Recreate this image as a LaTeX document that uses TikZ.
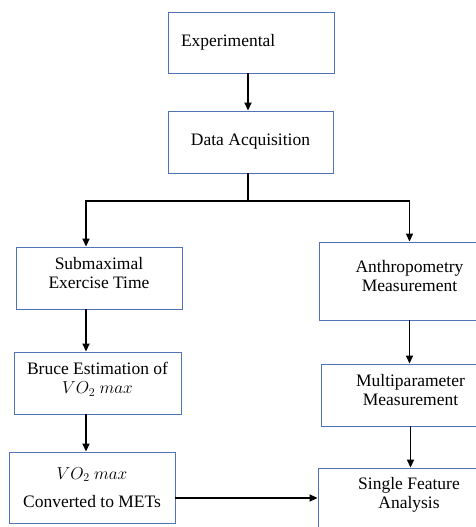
\documentclass[tikz,border=0pt]{standalone}
\usepackage{fontspec}
\setmainfont{Liberation Serif}
\usetikzlibrary{positioning, arrows.meta}

\definecolor{boxblue}{RGB}{79,114,184}

\begin{document}
\begin{tikzpicture}[
        x=1pt, y=-1pt,
        font=\fontsize{17.5}{19}\selectfont,
        % Styles
        block/.style={draw=boxblue, line width=0.9pt, fill=white, align=center, inner sep=4pt, minimum width=#1},
        block/.default=166pt,
        raised/.style={text depth=10pt},
        arrow/.style={-{Triangle[length=8pt, width=7pt]}, line width=1.7pt, draw=black}
    ]
    \useasboundingbox (0,0) rectangle (476,527);

    % Top Nodes
    \node[block, align=left, text width=140pt, minimum height=61pt] (exper) at (251,42.5) {Experimental};
    \node[block=165pt, minimum height=62pt] (data) at (250.5,142) {Data Acquisition};

    % Left Column
    \node[block, raised, minimum height=62pt] (submax) at (99,278) {Submaximal\\Exercise Time};
    \node[block=167pt, raised, minimum height=62pt] (bruce) at (97.5,383) {Bruce Estimation of\\$VO_2\ max$};
    \node[block, minimum height=71pt] (vo2) at (92,487.5) {$VO_2\ max$\\[9pt]Converted to METs};

    % Right Column
    \node[block=181pt, raised, minimum height=78pt] (anthro) at (409.5,281) {Anthropometry\\Measurement};
    \node[block=179pt, raised, minimum height=62pt] (multi) at (410.5,395) {Multiparameter\\Measurement};
    \node[block=182pt, raised, minimum height=60pt] (single) at (409,498) {Single Feature\\Analysis};

    % Branch Points
    \coordinate (split) at (248,201);
    \coordinate (lsplit) at (86,201);

    % Connectors
    \draw[arrow] (exper.south -| split) -- (data.north -| split);
    \draw[arrow] (data.south -| split) -- (split) -| (submax.north -| lsplit);
    \draw[arrow] (split) -| (anthro.north);
    \draw[arrow] (submax.south -| lsplit) -- (bruce.north -| lsplit);
    \draw[arrow] (bruce.south -| lsplit) -- (vo2.north -| lsplit);
    \draw[arrow] (anthro.south) -- (anthro.south |- multi.north);
    \draw[arrow] (multi.south) -- (multi.south |- single.north);
    \draw[arrow] (vo2.east |- single.west) -- (single.west);

\end{tikzpicture}
\end{document}
